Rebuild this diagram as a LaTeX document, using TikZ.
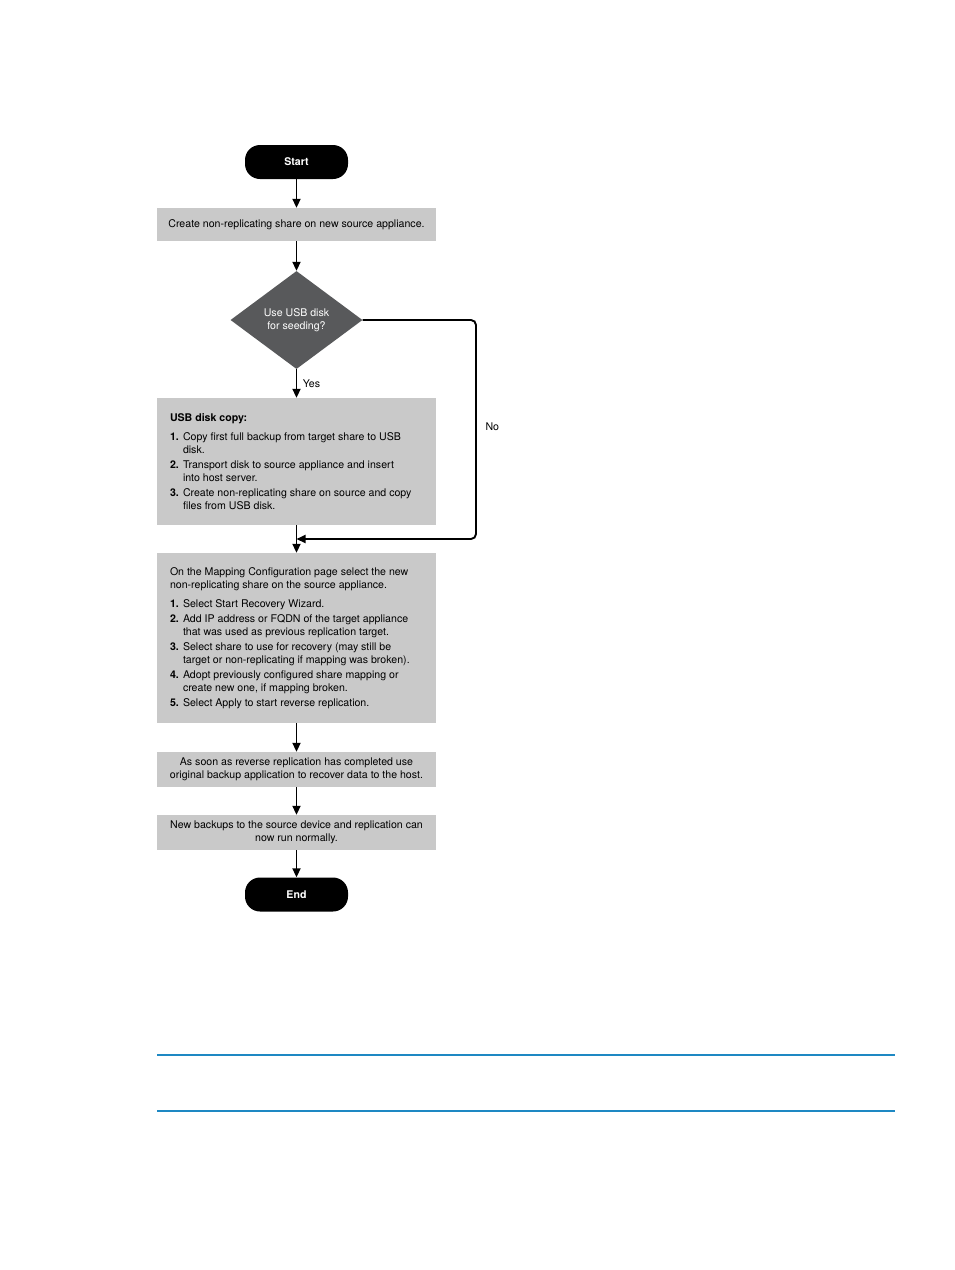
\documentclass[tikz,border=0pt]{standalone}
\usepackage{fontspec}
\setmainfont{TeX Gyre Heros}
\usetikzlibrary{arrows.meta, positioning, shapes.geometric}

\definecolor{boxgray}{HTML}{C9C9C9}
\definecolor{diagray}{HTML}{58595B}
\definecolor{rulebl}{HTML}{1E88C3}
\newcommand{\itm}[1]{\makebox[13pt][l]{\textbf{#1.}}}
\newcommand{\cont}{\hspace*{13pt}}

\begin{document}
\begin{tikzpicture}[
  x=1pt, y=-1pt,
  every node/.style={font=\fontsize{10.6}{13}\selectfont},
  term/.style={fill=black, rounded corners=15pt, minimum width=103pt, minimum height=34pt, text=white, font=\fontsize{10.6}{13}\selectfont\bfseries},
  box/.style={fill=boxgray, minimum width=279pt, inner sep=0pt, align=center},
  listbox/.style={fill=boxgray, text width=253pt, inner xsep=13pt, inner ysep=0pt, align=flush left},
  decision/.style={diamond, fill=diagray, minimum width=132pt, minimum height=98pt, inner sep=0pt, text=white, align=center},
  arrow/.style={-{Triangle[length=9pt, width=8pt]}, line width=1.9pt}
]
\useasboundingbox (0,0) rectangle (954,1270);

\node[term] (start) at (296.5,162) {Start};
\node[box, minimum height=33pt] (create) at (296.5,224.5) {Create non-replicating share on new source appliance.};
\node[decision] (usb) at (296.5,320) {Use USB disk\\for seeding?};
\node[listbox, minimum height=127pt] (usbcopy) at (296.5,461.5) {\textbf{USB disk copy:}\\[6pt]
  \itm{1}Copy first full backup from target share to USB\\ \cont disk.\\[2pt]
  \itm{2}Transport disk to source appliance and insert\\ \cont into host server.\\[2pt]
  \itm{3}Create non-replicating share on source and copy\\ \cont files from USB disk.};
\node[listbox, minimum height=170pt] (mapping) at (296.5,638) {On the Mapping Configuration page select the new\\non-replicating share on the source appliance.\\[6pt]
  \itm{1}Select Start Recovery Wizard.\\[2pt]
  \itm{2}Add IP address or FQDN of the target appliance\\ \cont that was used as previous replication target.\\[2pt]
  \itm{3}Select share to use for recovery (may still be\\ \cont target or non-replicating if mapping was broken).\\[2pt]
  \itm{4}Adopt previously configured share mapping or\\ \cont create new one, if mapping broken.\\[2pt]
  \itm{5}Select Apply to start reverse replication.};
\node[box, minimum height=35pt] (recover) at (296.5,769.5) {As soon as reverse replication has completed use\\original backup application to recover data to the host.};
\node[box, minimum height=35pt] (resume) at (296.5,832.5) {New backups to the source device and replication can\\now run normally.};
\node[term] (end) at (296.5,894.5) {End};

% no branch comes back in above the mapping box
\coordinate (noturn) at (476,539);
\coordinate (merge) at (296.5,539);

\draw[arrow] (start) -- (create);
\draw[arrow] (create) -- (usb);
\draw[arrow] (usb) -- node[right, xshift=2pt] {Yes} (usbcopy);
\draw[arrow] (usbcopy) -- (mapping);
\draw[arrow, rounded corners=5pt] (usb.east) -| (noturn) -- (merge);
\node[right] (nolabel) at (482,427) {No};
\draw[arrow] (mapping) -- (recover);
\draw[arrow] (recover) -- (resume);
\draw[arrow] (resume) -- (end);

% page rules
\draw[rulebl, line width=1.2pt] (157,1055) -- (895,1055);
\draw[rulebl, line width=1.2pt] (157,1111) -- (895,1111);
\end{tikzpicture}
\end{document}
